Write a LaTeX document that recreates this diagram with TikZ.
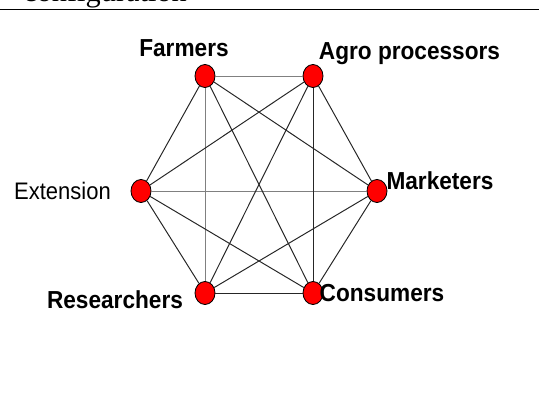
\documentclass[tikz,border=0pt]{standalone}
\usepackage{fontspec}
\setmainfont{Liberation Sans}
\newfontfamily\captionserif{Liberation Serif}
\usetikzlibrary{shapes.geometric}

\newcommand{\narrowtext}[1]{\scalebox{0.92}[1]{#1}}

\begin{document}
\begin{tikzpicture}

        \useasboundingbox (0,0) rectangle (13.475,-10.25);

        % caption cut by the top of the page, and the rule under it
        \node[anchor=base west, inner sep=0pt, font=\captionserif\fontsize{21.6}{24}\selectfont] (cap) at (0.575,-0.03) {configuration};
        \draw[line width=0.7pt] (0,-0.2325) -- (13.475,-0.2325);

        % actors, use the tuple for location
        \begin{scope}[every node/.style={ellipse,draw=black,fill=red,line width=0.6pt,inner sep=0pt,minimum width=0.5cm,minimum height=0.575cm}]
        \node (F) at (5.125,-1.9) {};
        \node (A) at (7.825,-1.9) {};
        \node (E) at (3.525,-4.775) {};
        \node (M) at (9.425,-4.775) {};
        \node (R) at (5.125,-7.325) {};
        \node (C) at (7.825,-7.325) {};
        \end{scope}

        % labels
        \begin{scope}[every node/.style={anchor=base,inner sep=0pt,font=\fontsize{17.5}{19}\selectfont\bfseries}]
        \node (Flab) at (4.6,-1.425) {\narrowtext{Farmers}};
        \node (Alab) at (10.2375,-1.5) {\narrowtext{Agro processors}};
        \node[font=\fontsize{17}{19}\selectfont] (Elab) at (1.5625,-4.975) {\narrowtext{Extension}};
        \node (Mlab) at (11.0,-4.725) {\narrowtext{Marketers}};
        \node (Rlab) at (2.875,-7.7) {\narrowtext{Researchers}};
        \node (Clab) at (9.55,-7.525) {\narrowtext{Consumers}};
        \end{scope}

        % links, every actor to every other
        \begin{scope}[every edge/.style={draw=black!85, line width=0.7pt}]
        \path [-] (F) edge[draw=gray] (A);
        \path [-] (F) edge[draw=gray] (R);
        \path [-] (E) edge[draw=gray] (M);
        \path [-] (F) edge[] (E);
        \path [-] (F) edge[] (M);
        \path [-] (F) edge[] (C);
        \path [-] (A) edge[] (E);
        \path [-] (A) edge[] (M);
        \path [-] (A) edge[] (R);
        \path [-] (A) edge[] (C);
        \path [-] (E) edge[] (R);
        \path [-] (E) edge[] (C);
        \path [-] (M) edge[] (R);
        \path [-] (M) edge[] (C);
        \path [-] (R) edge[] (C);
        \end{scope}

\end{tikzpicture}
\end{document}
